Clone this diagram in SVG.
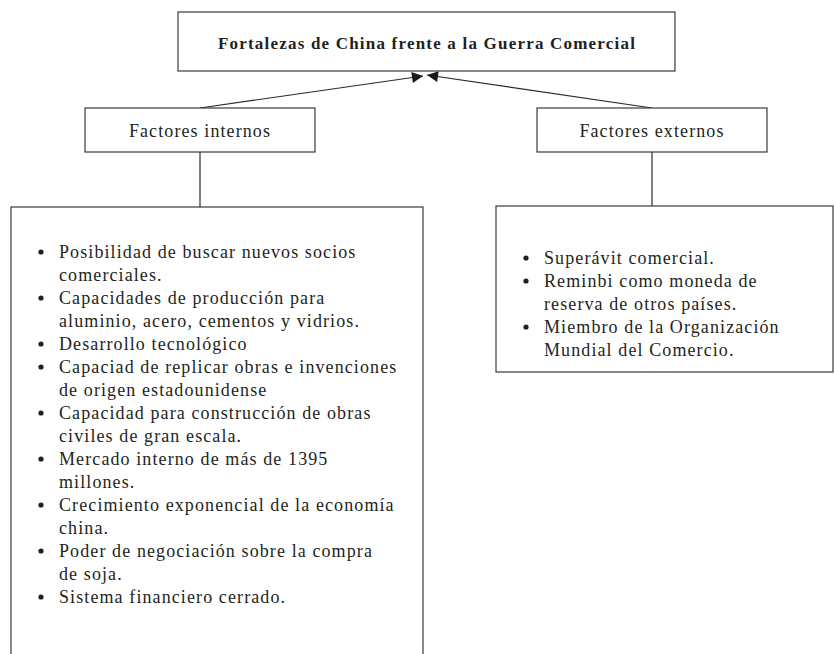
<svg xmlns="http://www.w3.org/2000/svg" width="834" height="654" viewBox="0 0 834 654">
<style>
.box{fill:#fff;stroke:#3a3a3a;stroke-width:1.2}
.t{font-family:"Liberation Serif","DejaVu Serif",serif;fill:#231f20;font-size:18px;letter-spacing:1.1px}
.title{font-family:"Liberation Serif","DejaVu Serif",serif;fill:#231f20;font-size:17px;font-weight:bold;letter-spacing:1.2px}
.ln{stroke:#2a2a2a;stroke-width:1.2;fill:none}
.b{fill:#231f20}
</style>
<defs>
<marker id="ah" viewBox="0 0 10 10" refX="10" refY="5" markerWidth="16" markerHeight="11" markerUnits="userSpaceOnUse" orient="auto">
<path d="M0,0 L10,5 L0,10 z" fill="#1a1a1a"/>
</marker>
</defs>
<rect width="834" height="654" fill="#fff"/>
<g id="connectors">
<line class="ln" x1="200" y1="108" x2="423" y2="76" marker-end="url(#ah)"/>
<line class="ln" x1="652" y1="108" x2="427" y2="75" marker-end="url(#ah)"/>
<line class="ln" x1="200" y1="152" x2="200" y2="207"/>
<line class="ln" x1="652" y1="152" x2="652" y2="206"/>
</g>
<g id="title">
<rect class="box" x="178" y="12" width="497" height="59"/>
<text class="title" x="427" y="49" text-anchor="middle">Fortalezas de China frente a la Guerra Comercial</text>
</g>
<g id="internos">
<rect class="box" x="85" y="108" width="230" height="44"/>
<text class="t" x="200" y="137" text-anchor="middle">Factores internos</text>
</g>
<g id="externos">
<rect class="box" x="537" y="108" width="230" height="44"/>
<text class="t" x="652" y="137" text-anchor="middle">Factores externos</text>
</g>
<g id="lista-internos">
<rect class="box" x="11" y="207" width="412" height="460"/>
<g class="b">
<circle cx="41" cy="252" r="2.6"/>
<circle cx="41" cy="298" r="2.6"/>
<circle cx="41" cy="344" r="2.6"/>
<circle cx="41" cy="367" r="2.6"/>
<circle cx="41" cy="413" r="2.6"/>
<circle cx="41" cy="459" r="2.6"/>
<circle cx="41" cy="505" r="2.6"/>
<circle cx="41" cy="551" r="2.6"/>
<circle cx="41" cy="597" r="2.6"/>
</g>
<g class="t">
<text x="59" y="258">Posibilidad de buscar nuevos socios</text>
<text x="59" y="281">comerciales.</text>
<text x="59" y="304">Capacidades de producción para</text>
<text x="59" y="327">aluminio, acero, cementos y vidrios.</text>
<text x="59" y="350">Desarrollo tecnológico</text>
<text x="59" y="373">Capaciad de replicar obras e invenciones</text>
<text x="59" y="396">de origen estadounidense</text>
<text x="59" y="419">Capacidad para construcción de obras</text>
<text x="59" y="442">civiles de gran escala.</text>
<text x="59" y="465">Mercado interno de más de 1395</text>
<text x="59" y="488">millones.</text>
<text x="59" y="511">Crecimiento exponencial de la economía</text>
<text x="59" y="534">china.</text>
<text x="59" y="557">Poder de negociación sobre la compra</text>
<text x="59" y="580">de soja.</text>
<text x="59" y="603">Sistema financiero cerrado.</text>
</g>
</g>
<g id="lista-externos">
<rect class="box" x="496" y="206" width="337" height="166"/>
<g class="b">
<circle cx="526" cy="258" r="2.6"/>
<circle cx="526" cy="281" r="2.6"/>
<circle cx="526" cy="327" r="2.6"/>
</g>
<g class="t">
<text x="544" y="264">Superávit comercial.</text>
<text x="544" y="287">Reminbi como moneda de</text>
<text x="544" y="310">reserva de otros países.</text>
<text x="544" y="333">Miembro de la Organización</text>
<text x="544" y="356">Mundial del Comercio.</text>
</g>
</g>
</svg>
